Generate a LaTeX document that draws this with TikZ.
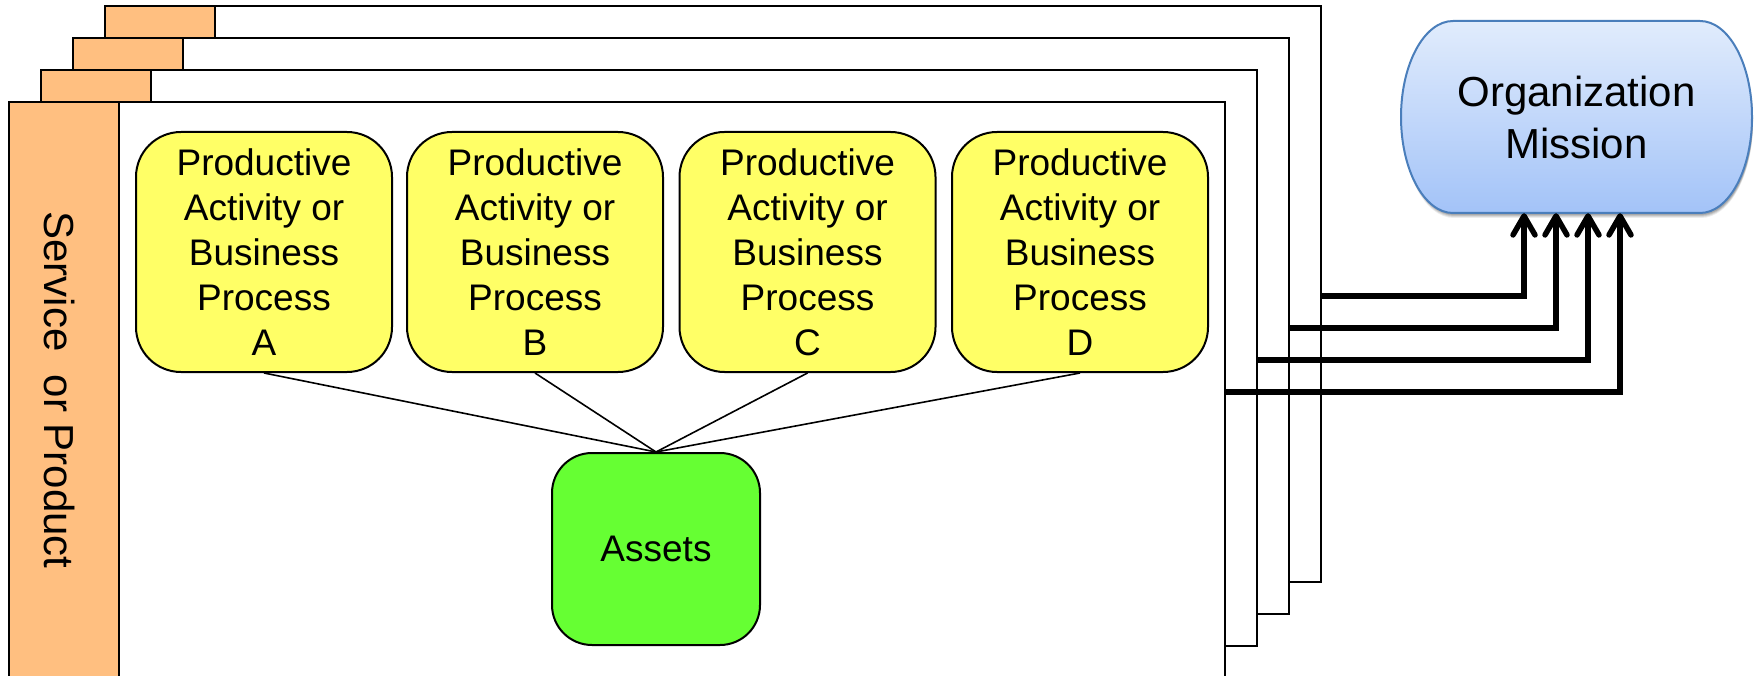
\documentclass[tikz,border=0pt]{standalone}
\usepackage{fontspec}
\setmainfont{Liberation Sans}
\usetikzlibrary{arrows.meta}
\definecolor{tabor}{HTML}{FFBF80}
\definecolor{procy}{HTML}{FFFF66}
\definecolor{assetg}{HTML}{66FF33}
\definecolor{orgtop}{HTML}{E1ECFC}
\definecolor{orgbot}{HTML}{A3C3F8}
\definecolor{orgline}{HTML}{4A7EBB}
\begin{document}
\begin{tikzpicture}[x=1pt,y=-1pt,
  framebox/.style={draw=black, line width=2.4pt, fill=white, minimum width=1216pt, minimum height=576pt, inner sep=0pt, anchor=north west},
  tabbox/.style={draw=black, line width=2.4pt, fill=tabor, minimum width=110pt, minimum height=576pt, inner sep=0pt, anchor=north west},
  procbox/.style={draw=black, line width=2pt, fill=procy, rounded corners=45pt, minimum width=256pt, minimum height=240pt, inner sep=0pt, align=center, font=\fontsize{37}{45}\selectfont},
  assetbox/.style={draw=black, line width=2pt, fill=assetg, rounded corners=40pt, minimum width=208pt, minimum height=192pt, inner sep=0pt, font=\fontsize{37}{45}\selectfont},
  link/.style={draw=black, line width=1.6pt},
  arr/.style={draw=black, line width=5.5pt, -{Straight Barb[length=19pt, width=22pt, round]}}
]
\path[use as bounding box, clip] (0,0) rectangle (1760,676);

% stacked frames, back to front
\foreach \k in {3,2,1,0}{
  \node[framebox] (f\k) at ({8+32*\k},{101-32*\k}) {};
  \node[tabbox] (tab\k) at (f\k.north west) {};
}
\node[rotate=-90, font=\fontsize{42}{50}\selectfont, inner sep=0pt] (svc) at (60,390) {Service\ \ or Product};

% processes
\node[procbox] (pA) at (264,252) {Productive\\Activity or\\Business\\Process\\A};
\node[procbox] (pB) at (535,252) {Productive\\Activity or\\Business\\Process\\B};
\node[procbox] (pC) at (807.5,252) {Productive\\Activity or\\Business\\Process\\C};
\node[procbox] (pD) at (1080,252) {Productive\\Activity or\\Business\\Process\\D};

% assets
\node[assetbox] (assets) at (656,549) {Assets};
\foreach \p in {pA,pB,pC,pD}{ \draw[link] (\p.south) -- (assets.north); }

% organization mission box
\foreach \s/\o in {5/0.07,4/0.09,3/0.11,2/0.12}{
  \begin{scope}[shift={(1,\s)}]
    \fill[black, opacity=\o] (1453,21) -- (1700,21) arc[start angle=-90,end angle=90,x radius=52,y radius=96] -- (1453,213) arc[start angle=90,end angle=270,x radius=52,y radius=96] -- cycle;
  \end{scope}
}
\shade[top color=orgtop, bottom color=orgbot] (1453,21) -- (1700,21) arc[start angle=-90,end angle=90,x radius=52,y radius=96] -- (1453,213) arc[start angle=90,end angle=270,x radius=52,y radius=96] -- cycle;
\draw[orgline, line width=2pt] (1453,21) -- (1700,21) arc[start angle=-90,end angle=90,x radius=52,y radius=96] -- (1453,213) arc[start angle=90,end angle=270,x radius=52,y radius=96] -- cycle;
\node[minimum width=351pt, minimum height=192pt, inner sep=0pt, align=center, font=\fontsize{42}{52}\selectfont] (org) at (1576.5,117) {Organization\\Mission};

% arrows from frames to mission
\coordinate (h3) at (0,296);
\coordinate (h2) at (0,328);
\coordinate (h1) at (0,360);
\coordinate (h0) at (0,392);
\coordinate (t3) at (1524,0);
\coordinate (t2) at (1556,0);
\coordinate (t1) at (1588,0);
\coordinate (t0) at (1620,0);
\foreach \k in {3,2,1,0}{
  \draw[arr] (f\k.east |- h\k) -| (t\k |- org.south);
}
\end{tikzpicture}
\end{document}
